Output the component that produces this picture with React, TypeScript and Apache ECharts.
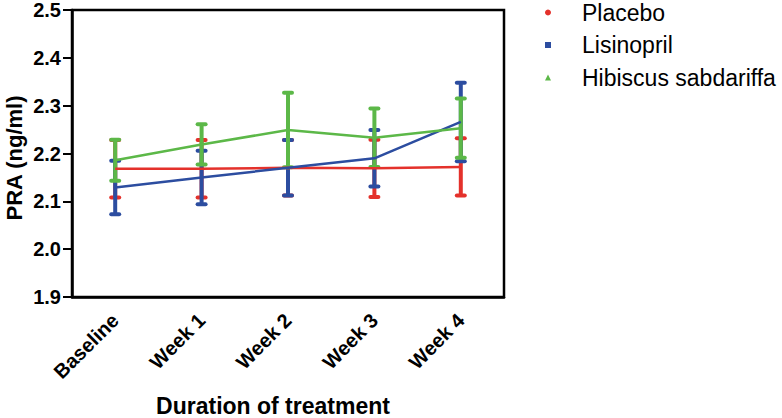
import React, { useEffect, useRef } from "react";
import * as echarts from "echarts";

const categories = ["Baseline", "Week 1", "Week 2", "Week 3", "Week 4"];
const seriesNames = ["Placebo", "Lisinopril", "Hibiscus sabdariffa"];
const placeboMean = [2.168, 2.168, 2.17, 2.169, 2.172];
const placeboSem = [0.06, 0.06, 0.058, 0.06, 0.06];
const lisinoprilMean = [2.129, 2.15, 2.17, 2.19, 2.266];
const lisinoprilSem = [0.056, 0.056, 0.058, 0.059, 0.082];
const hibiscusMean = [2.186, 2.219, 2.249, 2.233, 2.253];
const hibiscusSem = [0.043, 0.042, 0.078, 0.061, 0.062];
const yTicks = [1.9, 2.0, 2.1, 2.2, 2.3, 2.4, 2.5];
const xTitle = "Duration of treatment";
const yTitle = "PRA (ng/ml)";

const COLORS = ["#e4312b", "#2c4da0", "#5cb848"];
const ICONS = ["circle", "rect", "triangle"];
const FONT = "'Liberation Sans', Arial, Helvetica, sans-serif";

function errData(mean: number[], sem: number[]) {
  return mean.map((m, i) => [i, m - sem[i], m + sem[i]]);
}

function makeErr(name: string, color: string, mean: number[], sem: number[]) {
  return {
    type: "custom",
    name: name + " SEM",
    data: errData(mean, sem),
    encode: { x: 0, y: [1, 2] },
    renderItem: (params: any, api: any) => {
      const x = api.value(0);
      const lo = api.coord([x, api.value(1)]);
      const hi = api.coord([x, api.value(2)]);
      const hw = 4;
      const st = { stroke: color, lineWidth: 4, lineCap: "round" };
      return {
        type: "group",
        children: [
          { type: "line", shape: { x1: lo[0], y1: lo[1], x2: hi[0], y2: hi[1] }, style: { stroke: color, lineWidth: 4 } },
          { type: "line", shape: { x1: hi[0] - hw, y1: hi[1], x2: hi[0] + hw, y2: hi[1] }, style: st },
          { type: "line", shape: { x1: lo[0] - hw, y1: lo[1], x2: lo[0] + hw, y2: lo[1] }, style: st },
        ],
      };
    },
  };
}

function makeLine(name: string, color: string, mean: number[]) {
  return {
    type: "line",
    name,
    data: mean,
    showSymbol: false,
    symbol: "none",
    lineStyle: { color, width: 2.5 },
    itemStyle: { color },
  };
}

export default function App() {
  const ref = useRef<HTMLDivElement>(null);
  useEffect(() => {
    document.body.style.margin = "0";
    const chart = echarts.init(ref.current!, null, { renderer: "svg" });
    const means = [placeboMean, lisinoprilMean, hibiscusMean];
    const sems = [placeboSem, lisinoprilSem, hibiscusSem];
    const series: any[] = [];
    seriesNames.forEach((n, i) => {
      series.push(makeErr(n, COLORS[i], means[i], sems[i]));
      series.push(makeLine(n, COLORS[i], means[i]));
    });
    chart.setOption({
      animation: false,
      backgroundColor: "#ffffff",
      grid: {
        left: 72,
        right: 278,
        top: 8.5,
        bottom: 121,
        show: true,
        borderColor: "#000",
        borderWidth: 2.5,
        containLabel: false,
      },
      graphic: [
        {
          type: "text",
          x: 273,
          y: 406,
          style: {
            text: xTitle,
            font: `bold 23px ${FONT}`,
            fill: "#000",
            textAlign: "center",
            textVerticalAlign: "middle",
          },
        },
        {
          type: "text",
          x: 14,
          y: 158,
          rotation: Math.PI / 2,
          style: {
            text: yTitle,
            font: `bold 22px ${FONT}`,
            fill: "#000",
            textAlign: "center",
            textVerticalAlign: "middle",
          },
        },
      ],
      legend: {
        orient: "vertical",
        left: 545,
        top: 1,
        padding: 0,
        itemWidth: 6,
        itemHeight: 6,
        itemGap: 9.5,
        data: seriesNames.map((n, i) => ({ name: n, icon: ICONS[i], itemStyle: { color: COLORS[i] } })),
        textStyle: {
          fontFamily: FONT,
          fontSize: 23,
          lineHeight: 23,
          color: "#000",
          padding: [0, 0, 0, 26],
        },
      },
      xAxis: {
        type: "category",
        data: categories,
        boundaryGap: true,
        axisLine: { lineStyle: { color: "#000", width: 2.5 } },
        axisTick: { alignWithLabel: true, length: 8, lineStyle: { color: "#000", width: 2 } },
        axisLabel: {
          rotate: 45,
          margin: 20,
          fontFamily: FONT,
          fontSize: 20,
          fontWeight: "bold",
          color: "#000",
        },
        splitLine: { show: false },
      },
      yAxis: {
        type: "value",
        min: yTicks[0],
        max: yTicks[yTicks.length - 1],
        interval: 0.1,
        axisLine: { show: true, lineStyle: { color: "#000", width: 2.5 } },
        axisTick: { show: true, length: 9, lineStyle: { color: "#000", width: 2 } },
        axisLabel: {
          margin: 11,
          fontFamily: FONT,
          fontSize: 20,
          lineHeight: 14,
          fontWeight: "bold",
          color: "#000",
          formatter: (v: number) => v.toFixed(1),
        },
        splitLine: { show: false },
      },
      series,
    });
    return () => chart.dispose();
  }, []);
  return <div ref={ref} style={{ width: 782, height: 418 }} />;
}
